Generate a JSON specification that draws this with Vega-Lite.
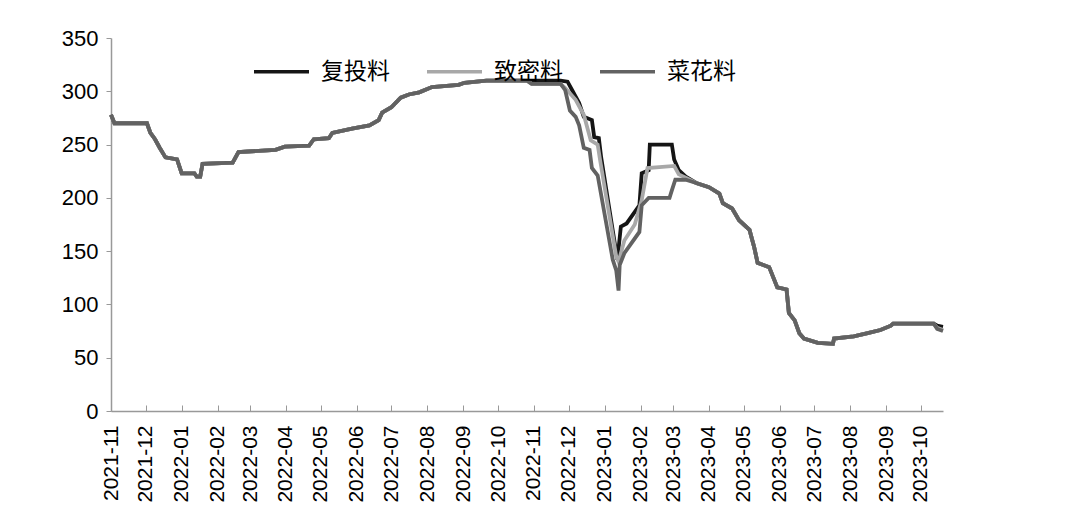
{
  "$schema": "https://vega.github.io/schema/vega-lite/v6.json",
  "width": 832,
  "height": 373,
  "autosize": {"type": "none"},
  "padding": {"left": 111, "top": 38, "right": 137, "bottom": 104},
  "background": "white",
  "config": {"view": {"stroke": null}, "font": "Liberation Sans"},
  "data": {"values": [
    {"d": "2021-11-01", "复投料": 278, "致密料": 278, "菜花料": 278},
    {"d": "2021-11-04", "复投料": 270, "致密料": 270, "菜花料": 270},
    {"d": "2021-12-02", "复投料": 270, "致密料": 270, "菜花料": 270},
    {"d": "2021-12-05", "复投料": 261, "致密料": 261, "菜花料": 261},
    {"d": "2021-12-09", "复投料": 255, "致密料": 255, "菜花料": 255},
    {"d": "2021-12-13", "复投料": 247, "致密料": 247, "菜花料": 247},
    {"d": "2021-12-18", "复投料": 238, "致密料": 238, "菜花料": 238},
    {"d": "2021-12-28", "复投料": 236, "致密料": 236, "菜花料": 236},
    {"d": "2022-01-01", "复投料": 223, "致密料": 223, "菜花料": 223},
    {"d": "2022-01-12", "复投料": 223, "致密料": 223, "菜花料": 223},
    {"d": "2022-01-14", "复投料": 220, "致密料": 220, "菜花料": 220},
    {"d": "2022-01-17", "复投料": 220, "致密料": 220, "菜花料": 220},
    {"d": "2022-01-19", "复投料": 232, "致密料": 232, "菜花料": 232},
    {"d": "2022-02-14", "复投料": 233, "致密料": 233, "菜花料": 233},
    {"d": "2022-02-19", "复投料": 243, "致密料": 243, "菜花料": 243},
    {"d": "2022-03-23", "复投料": 245, "致密料": 245, "菜花料": 245},
    {"d": "2022-03-31", "复投料": 248, "致密料": 248, "菜花料": 248},
    {"d": "2022-04-21", "复投料": 249, "致密料": 249, "菜花料": 249},
    {"d": "2022-04-25", "复投料": 255, "致密料": 255, "菜花料": 255},
    {"d": "2022-05-08", "复投料": 256, "致密料": 256, "菜花料": 256},
    {"d": "2022-05-11", "复投料": 261, "致密料": 261, "菜花料": 261},
    {"d": "2022-05-28", "复投料": 265, "致密料": 265, "菜花料": 265},
    {"d": "2022-06-12", "复投料": 268, "致密料": 268, "菜花料": 268},
    {"d": "2022-06-20", "复投料": 273, "致密料": 273, "菜花料": 273},
    {"d": "2022-06-23", "复投料": 280, "致密料": 280, "菜花料": 280},
    {"d": "2022-07-01", "复投料": 285, "致密料": 285, "菜花料": 285},
    {"d": "2022-07-09", "复投料": 294, "致密料": 294, "菜花料": 294},
    {"d": "2022-07-16", "复投料": 297, "致密料": 297, "菜花料": 297},
    {"d": "2022-07-25", "复投料": 299, "致密料": 299, "菜花料": 299},
    {"d": "2022-08-05", "复投料": 304, "致密料": 304, "菜花料": 304},
    {"d": "2022-08-28", "复投料": 306, "致密料": 306, "菜花料": 306},
    {"d": "2022-09-02", "复投料": 308, "致密料": 308, "菜花料": 308},
    {"d": "2022-09-21", "复投料": 310, "致密料": 310, "菜花料": 310},
    {"d": "2022-10-26", "复投料": 310, "致密料": 310, "菜花料": 310},
    {"d": "2022-10-30", "复投料": 310, "致密料": 307, "菜花料": 307},
    {"d": "2022-11-24", "复投料": 310, "致密料": 307, "菜花料": 307},
    {"d": "2022-11-28", "复投料": null, "致密料": 303, "菜花料": 301},
    {"d": "2022-11-30", "复投料": 309, "致密料": null, "菜花料": null},
    {"d": "2022-12-02", "复投料": null, "致密料": null, "菜花料": 282},
    {"d": "2022-12-04", "复投料": 301, "致密料": null, "菜花料": null},
    {"d": "2022-12-07", "复投料": null, "致密料": 292, "菜花料": 276},
    {"d": "2022-12-10", "复投料": 289, "致密料": null, "菜花料": 268},
    {"d": "2022-12-14", "复投料": 276, "致密料": 278, "菜花料": 247},
    {"d": "2022-12-19", "复投料": null, "致密料": null, "菜花料": 245},
    {"d": "2022-12-20", "复投料": null, "致密料": 254, "菜花料": null},
    {"d": "2022-12-21", "复投料": 273, "致密料": null, "菜花料": 228},
    {"d": "2022-12-23", "复投料": 257, "致密料": null, "菜花料": null},
    {"d": "2022-12-26", "复投料": null, "致密料": 250, "菜花料": 221},
    {"d": "2022-12-27", "复投料": 256, "致密料": null, "菜花料": null},
    {"d": "2022-12-28", "复投料": null, "致密料": 236, "菜花料": null},
    {"d": "2022-12-29", "复投料": 238, "致密料": null, "菜花料": null},
    {"d": "2023-01-08", "复投料": null, "致密料": null, "菜花料": 142},
    {"d": "2023-01-11", "复投料": null, "致密料": 145, "菜花料": 132},
    {"d": "2023-01-12", "复投料": 142, "致密料": null, "菜花料": null},
    {"d": "2023-01-13", "复投料": null, "致密料": 140, "菜花料": 113},
    {"d": "2023-01-14", "复投料": null, "致密料": null, "菜花料": 137},
    {"d": "2023-01-15", "复投料": 173, "致密料": null, "菜花料": null},
    {"d": "2023-01-18", "复投料": null, "致密料": 160, "菜花料": 148},
    {"d": "2023-01-20", "复投料": 176, "致密料": null, "菜花料": null},
    {"d": "2023-01-27", "复投料": null, "致密料": 175, "菜花料": null},
    {"d": "2023-01-31", "复投料": 193, "致密料": null, "菜花料": 168},
    {"d": "2023-02-02", "复投料": 223, "致密料": 198, "菜花料": 193},
    {"d": "2023-02-07", "复投料": null, "致密料": 228, "菜花料": null},
    {"d": "2023-02-08", "复投料": 226, "致密料": null, "菜花料": 200},
    {"d": "2023-02-09", "复投料": 250, "致密料": null, "菜花料": null},
    {"d": "2023-02-26", "复投料": null, "致密料": null, "菜花料": 200},
    {"d": "2023-02-28", "复投料": 250, "致密料": null, "菜花料": 207},
    {"d": "2023-03-02", "复投料": 236, "致密料": 230, "菜花料": null},
    {"d": "2023-03-03", "复投料": null, "致密料": null, "菜花料": 217},
    {"d": "2023-03-06", "复投料": 226, "致密料": 222, "菜花料": null},
    {"d": "2023-03-12", "复投料": 220, "致密料": 219, "菜花料": 217},
    {"d": "2023-03-21", "复投料": 214, "致密料": 214, "菜花料": 214},
    {"d": "2023-04-01", "复投料": 210, "致密料": 210, "菜花料": 210},
    {"d": "2023-04-10", "复投料": 204, "致密料": 204, "菜花料": 204},
    {"d": "2023-04-13", "复投料": 195, "致密料": 195, "菜花料": 195},
    {"d": "2023-04-21", "复投料": 190, "致密料": 190, "菜花料": 190},
    {"d": "2023-04-27", "复投料": 179, "致密料": 179, "菜花料": 179},
    {"d": "2023-05-06", "复投料": 170, "致密料": 170, "菜花料": 170},
    {"d": "2023-05-10", "复投料": 154, "致密料": 154, "菜花料": 154},
    {"d": "2023-05-13", "复投料": 139, "致密料": 139, "菜花料": 139},
    {"d": "2023-05-23", "复投料": 135, "致密料": 135, "菜花料": 135},
    {"d": "2023-05-30", "复投料": 116, "致密料": 116, "菜花料": 116},
    {"d": "2023-06-07", "复投料": 114, "致密料": 114, "菜花料": 114},
    {"d": "2023-06-09", "复投料": 92, "致密料": 92, "菜花料": 92},
    {"d": "2023-06-14", "复投料": 85, "致密料": 85, "菜花料": 85},
    {"d": "2023-06-18", "复投料": 73, "致密料": 73, "菜花料": 73},
    {"d": "2023-06-22", "复投料": 68, "致密料": 68, "菜花料": 68},
    {"d": "2023-07-04", "复投料": 64, "致密料": 64, "菜花料": 64},
    {"d": "2023-07-17", "复投料": 63, "致密料": 63, "菜花料": 63},
    {"d": "2023-07-18", "复投料": 68, "致密料": 68, "菜花料": 68},
    {"d": "2023-08-04", "复投料": 70, "致密料": 70, "菜花料": 70},
    {"d": "2023-08-16", "复投料": 73, "致密料": 73, "菜花料": 73},
    {"d": "2023-08-27", "复投料": 76, "致密料": 76, "菜花料": 76},
    {"d": "2023-09-05", "复投料": 80, "致密料": 80, "菜花料": 80},
    {"d": "2023-09-07", "复投料": 82, "致密料": 82, "菜花料": 82},
    {"d": "2023-10-12", "复投料": 82, "致密料": 82, "菜花料": 82},
    {"d": "2023-10-15", "复投料": 80, "致密料": 78, "菜花料": 77},
    {"d": "2023-10-20", "复投料": 79, "致密料": 76, "菜花料": 75}
  ]},
  "transform": [
    {"fold": ["复投料", "致密料", "菜花料"], "as": ["s", "v"]},
    {"filter": "isValid(datum.v)"}
  ],
  "mark": {"type": "line", "strokeWidth": 3.8, "interpolate": "linear"},
  "encoding": {
    "x": {
      "field": "d", "type": "temporal",
      "scale": {"type": "utc", "domain": [{"year": 2021, "month": 11, "date": 1, "utc": true}, {"year": 2023, "month": 10, "date": 20, "utc": true}]},
      "axis": {
        "title": null, "grid": false,
        "tickCount": {"interval": "month", "step": 1},
        "labelExpr": "utcFormat(datum.value, '%Y-%m')",
        "labelAngle": -90, "labelFontSize": 21, "labelColor": "#000",
        "labelPadding": 20, "labelOverlap": false, "labelFlush": false, "labelBound": false,
        "tickSize": -6, "tickColor": "#999", "domainColor": "#999", "domainWidth": 1.5
      }
    },
    "y": {
      "field": "v", "type": "quantitative",
      "scale": {"domain": [0, 350], "nice": false},
      "axis": {
        "title": null, "grid": false, "values": [0, 50, 100, 150, 200, 250, 300, 350],
        "labelFontSize": 22, "labelColor": "#000", "labelPadding": 8,
        "tickSize": 5, "tickColor": "#999", "domainColor": "#999", "domainWidth": 1.5
      }
    },
    "color": {
      "field": "s", "type": "nominal",
      "scale": {"domain": ["复投料", "致密料", "菜花料"], "range": ["#151515", "#a8a8a8", "#626262"]},
      "legend": {
        "orient": "none", "legendX": 141, "legendY": 4, "direction": "horizontal",
        "title": null, "symbolType": "stroke", "symbolSize": 3025, "symbolStrokeWidth": 3.5,
        "labelFont": "Noto Sans CJK SC", "labelFontSize": 23, "labelColor": "#000",
        "labelOffset": 10, "columnPadding": 30
      }
    }
  }
}
